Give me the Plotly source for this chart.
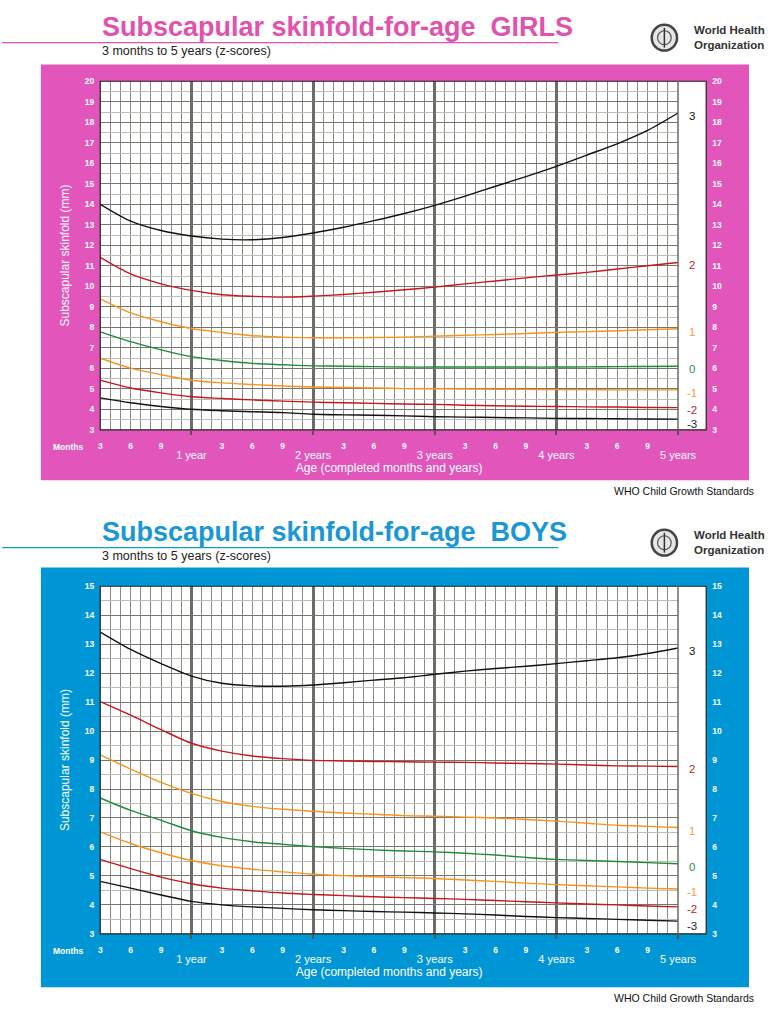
import plotly.graph_objects as go

W, H = 768, 1024

# ---------------- data ----------------
months = [3, 6, 9, 12, 15, 18, 21, 24, 27, 30, 33, 36, 39, 42, 45, 48, 51, 54, 57, 60]

girls_sd3 = [14.0, 13.18, 12.72, 12.45, 12.3, 12.27, 12.38, 12.6, 12.88, 13.2, 13.55, 13.95, 14.4, 14.88, 15.35, 15.85, 16.4, 16.95, 17.6, 18.45]
girls_sd2 = [11.41, 10.6, 10.12, 9.8, 9.59, 9.51, 9.47, 9.52, 9.6, 9.71, 9.83, 9.96, 10.12, 10.26, 10.41, 10.55, 10.68, 10.84, 11.0, 11.16]
girls_sd1 = [9.39, 8.7, 8.27, 7.94, 7.75, 7.59, 7.52, 7.49, 7.49, 7.5, 7.52, 7.57, 7.61, 7.65, 7.7, 7.75, 7.79, 7.83, 7.88, 7.93]
girls_sd0 = [7.78, 7.3, 6.9, 6.57, 6.38, 6.24, 6.17, 6.12, 6.1, 6.08, 6.06, 6.06, 6.06, 6.06, 6.06, 6.06, 6.07, 6.08, 6.09, 6.1]
girls_sdm1 = [6.49, 6.01, 5.69, 5.42, 5.29, 5.21, 5.14, 5.09, 5.06, 5.04, 5.01, 5.0, 4.99, 4.98, 4.97, 4.96, 4.96, 4.95, 4.95, 4.95]
girls_sdm2 = [5.42, 5.04, 4.8, 4.61, 4.53, 4.46, 4.4, 4.35, 4.32, 4.29, 4.26, 4.24, 4.2, 4.17, 4.15, 4.14, 4.12, 4.11, 4.09, 4.08]
girls_sdm3 = [4.56, 4.32, 4.14, 4.0, 3.93, 3.88, 3.84, 3.76, 3.73, 3.71, 3.68, 3.64, 3.62, 3.6, 3.58, 3.56, 3.55, 3.54, 3.53, 3.52]

boys_sd3 = [13.42, 12.82, 12.33, 11.9, 11.65, 11.56, 11.55, 11.59, 11.67, 11.76, 11.84, 11.96, 12.07, 12.16, 12.24, 12.33, 12.43, 12.53, 12.68, 12.87]
boys_sd2 = [11.02, 10.55, 10.05, 9.58, 9.31, 9.14, 9.05, 8.99, 8.97, 8.95, 8.94, 8.93, 8.92, 8.9, 8.88, 8.86, 8.83, 8.8, 8.79, 8.78]
boys_sd1 = [9.18, 8.69, 8.23, 7.85, 7.57, 7.4, 7.3, 7.23, 7.17, 7.13, 7.08, 7.06, 7.03, 7.0, 6.95, 6.89, 6.82, 6.75, 6.71, 6.67]
boys_sd0 = [7.69, 7.26, 6.92, 6.56, 6.33, 6.18, 6.09, 6.01, 5.95, 5.9, 5.86, 5.83, 5.78, 5.72, 5.64, 5.57, 5.53, 5.5, 5.46, 5.42]
boys_sdm1 = [6.52, 6.12, 5.8, 5.53, 5.35, 5.23, 5.14, 5.06, 5.01, 4.97, 4.94, 4.91, 4.86, 4.81, 4.75, 4.7, 4.66, 4.62, 4.58, 4.55]
boys_sdm2 = [5.57, 5.25, 4.96, 4.73, 4.58, 4.49, 4.41, 4.36, 4.32, 4.28, 4.25, 4.22, 4.19, 4.15, 4.11, 4.07, 4.03, 4.0, 3.96, 3.93]
boys_sdm3 = [4.81, 4.58, 4.34, 4.12, 4.0, 3.93, 3.88, 3.83, 3.8, 3.77, 3.75, 3.72, 3.69, 3.65, 3.6, 3.56, 3.53, 3.5, 3.47, 3.44]

z_labels = ["3", "2", "1", "0", "-1", "-2", "-3"]
month_tickvals = [3, 6, 9, 15, 18, 21, 27, 30, 33, 39, 42, 45, 51, 54, 57]
month_ticktext = ["3", "6", "9"] * 5
year_tickvals = [12, 24, 36, 48, 60]
year_ticktext = ["1 year", "2 years", "3 years", "4 years", "5 years"]

# ---------------- style ----------------
line_colors = ["#111111", "#c8161d", "#f7941d", "#1f8b3b", "#f7941d", "#c8161d", "#111111"]
label_colors = ["#111111", "#b3262b", "#f39a45", "#2e8b57", "#f39a45", "#b3262b", "#1c2233"]
label_shift = [-3, -3, -3, -3, -3, -2, -5]
FONT = "Liberation Sans, Arial, sans-serif"
PINK_PANEL = "#e255bb"
PINK_TITLE = "#e052ad"
BLUE_PANEL = "#0096d6"
BLUE_TITLE = "#1a97d5"


def px(x):
    return x / W


def py(y):
    return 1 - y / H


panels = [
    dict(name="GIRLS", series=[girls_sd3, girls_sd2, girls_sd1, girls_sd0, girls_sdm1, girls_sdm2, girls_sdm3],
         yr=[3, 20], top=77, bot=429, head=22, panel=(60, 480), title_col=PINK_TITLE, panel_col=PINK_PANEL,
         ax=("x", "y", "x3", "y3")),
    dict(name="BOYS", series=[boys_sd3, boys_sd2, boys_sd1, boys_sd0, boys_sdm1, boys_sdm2, boys_sdm3],
         yr=[3, 15], top=587, bot=938, head=532, panel=(568, 992), title_col=BLUE_TITLE, panel_col=BLUE_PANEL,
         ax=("x2", "y2", "x4", "y4")),
]

X_LEFT, X_GRID_R, X_BOX_R = 101, 695, 724

fig = go.Figure()
shapes = []
annotations = []
layout_axes = {}

for p in panels:
    xa, ya, xo, yo = p["ax"]
    n = len(p["series"])
    for i, (s, col) in enumerate(zip(p["series"], line_colors)):
        # top curve drawn on the month-label axis, bottom curve on the right-hand axis
        # (identical fixed ranges), so that those overlay axes are rendered
        tx = xo if i == 0 else xa
        ty = yo if i == n - 1 else ya
        fig.add_trace(go.Scatter(x=months, y=s, mode="lines", xaxis=tx, yaxis=ty,
                                 line=dict(color=col, width=1.4, shape="spline", smoothing=0.8),
                                 hoverinfo="skip", showlegend=False))
    # z-score labels at the end of each curve
    for s, lab, lc, sh in zip(p["series"], z_labels, label_colors, label_shift):
        annotations.append(dict(x=px(709), xref="paper", y=s[-1], yref=ya, text=lab, showarrow=False,
                                xanchor="center", yanchor="middle", yshift=sh, borderpad=0,
                                font=dict(family=FONT, size=11.5, color=lc)))

    xdom = [px(X_LEFT), px(X_GRID_R)]
    ydom = [py(p["bot"]), py(p["top"])]
    tickfont = dict(family=FONT, size=8.5, color="white", weight="bold")
    xkey = "xaxis" if xa == "x" else "xaxis" + xa[1:]
    ykey = "yaxis" if ya == "y" else "yaxis" + ya[1:]
    xokey = "xaxis" + xo[1:]
    yokey = "yaxis" + yo[1:]
    layout_axes[xkey] = dict(domain=xdom, anchor=ya, range=[3, 60], tickmode="array",
                             tickvals=year_tickvals, ticktext=year_ticktext,
                             ticks="outside", ticklen=4, tickwidth=2, tickcolor="#555550",
                             showgrid=True, gridcolor="#6d6d66", gridwidth=3,
                             minor=dict(dtick=1, tick0=0, showgrid=True, gridcolor="#8c8c86", gridwidth=1, ticks=""),
                             tickfont=dict(family=FONT, size=11, color="white"), ticklabelstandoff=11,
                             title=dict(text="Age (completed months and years)", standoff=1,
                                        font=dict(family=FONT, size=12, color="white")),
                             zeroline=False, showline=False, fixedrange=True)
    layout_axes[xokey] = dict(overlaying=xa, anchor=ya, side="bottom", range=[3, 60], tickmode="array",
                              tickvals=month_tickvals, ticktext=month_ticktext, ticks="",
                              showgrid=False, zeroline=False, tickfont=tickfont, ticklabelstandoff=10,
                              fixedrange=True)
    layout_axes[ykey] = dict(domain=ydom, anchor=xa, range=p["yr"], dtick=1, tick0=0, ticks="",
                             showgrid=True, gridcolor="#76766f", gridwidth=1,
                             minor=dict(dtick=0.5, tick0=0, showgrid=True, gridcolor="#bdbdb8", gridwidth=1),
                             tickfont=tickfont, zeroline=False, showline=False, ticklabelstandoff=5,
                             title=dict(text="Subscapular skinfold (mm)", standoff=12,
                                        font=dict(family=FONT, size=12, color="white")),
                             fixedrange=True)
    layout_axes[yokey] = dict(overlaying=ya, anchor="free", position=px(X_BOX_R), side="right",
                              range=p["yr"], dtick=1, tick0=0, ticks="", showgrid=False, zeroline=False,
                              tickfont=tickfont, ticklabelstandoff=5, fixedrange=True)

    # panel background and white chart area
    shapes.append(dict(type="rect", xref="paper", yref="paper", x0=px(40), x1=1,
                       y0=py(p["panel"][1]), y1=py(p["panel"][0]), fillcolor=p["panel_col"],
                       line=dict(width=0), layer="below"))
    shapes.append(dict(type="rect", xref="paper", yref="paper", x0=px(X_LEFT), x1=px(X_BOX_R),
                       y0=py(p["bot"]), y1=py(p["top"]), fillcolor="white",
                       line=dict(width=0), layer="below"))
    # frame
    shapes.append(dict(type="rect", xref="paper", yref="paper", x0=px(X_LEFT), x1=px(X_BOX_R),
                       y0=py(p["bot"]), y1=py(p["top"]), line=dict(color="#222222", width=1.2),
                       layer="above"))
    shapes.append(dict(type="line", xref="paper", yref="paper", x0=px(X_GRID_R), x1=px(X_GRID_R),
                       y0=py(p["bot"]), y1=py(p["top"]), line=dict(color="#6d6d66", width=1.5),
                       layer="above"))
    # title underline
    hy = p["head"]
    shapes.append(dict(type="line", xref="paper", yref="paper", x0=0, x1=px(572),
                       y0=py(hy + 16), y1=py(hy + 16), line=dict(color=p["title_col"], width=1.2)))
    # WHO emblem (simplified)
    cx, cy, r = 681, hy + 11, 13
    shapes.append(dict(type="circle", xref="paper", yref="paper", x0=px(cx - r), x1=px(cx + r),
                       y0=py(cy + r), y1=py(cy - r), line=dict(color="#444444", width=2.5),
                       fillcolor="#e6e6e6"))
    shapes.append(dict(type="circle", xref="paper", yref="paper", x0=px(cx - 7), x1=px(cx + 7),
                       y0=py(cy + 7), y1=py(cy - 7), line=dict(color="#555555", width=1.2)))
    shapes.append(dict(type="line", xref="paper", yref="paper", x0=px(cx), x1=px(cx),
                       y0=py(cy + 10), y1=py(cy - 10), line=dict(color="#333333", width=1.5)))

    annotations.append(dict(x=px(101), y=py(hy), xref="paper", yref="paper", xanchor="left",
                            yanchor="middle", showarrow=False,
                            text="<b>Subscapular skinfold-for-age  " + p["name"] + "</b>",
                            font=dict(family=FONT, size=27, color=p["title_col"])))
    annotations.append(dict(x=px(101), y=py(hy + 24), xref="paper", yref="paper", xanchor="left",
                            yanchor="middle", showarrow=False, text="3 months to 5 years (z-scores)",
                            font=dict(family=FONT, size=12.5, color="#222222")))
    annotations.append(dict(x=px(709), y=py(hy + 11), xref="paper", yref="paper", xanchor="left",
                            yanchor="middle", showarrow=False, align="left",
                            text="<b>World Health<br>Organization</b>",
                            font=dict(family=FONT, size=11.5, color="#333333")))
    annotations.append(dict(x=px(68), y=py(p["bot"] + 17), xref="paper", yref="paper", xanchor="center",
                            yanchor="middle", showarrow=False, text="<b>Months</b>",
                            font=dict(family=FONT, size=8.5, color="white")))
    annotations.append(dict(x=px(627), y=py(p["panel"][1] + 11), xref="paper", yref="paper",
                            xanchor="left", yanchor="middle", showarrow=False,
                            text="WHO Child Growth Standards",
                            font=dict(family=FONT, size=10.5, color="#111111")))

fig.update_layout(width=W, height=H, margin=dict(l=0, r=0, t=0, b=0), autosize=False,
                  paper_bgcolor="white", plot_bgcolor="rgba(0,0,0,0)", showlegend=False,
                  shapes=shapes, annotations=annotations, **layout_axes)

fig.write_html("out.html", config={"displayModeBar": False},
               post_script="document.documentElement.style.overflow='hidden';"
                           "document.body.style.margin='0';document.body.style.overflow='hidden';"
                           "document.querySelectorAll('.svg-container, .main-svg, .plotly-graph-div')"
                           ".forEach(function(e){e.style.overflow='hidden';});")
